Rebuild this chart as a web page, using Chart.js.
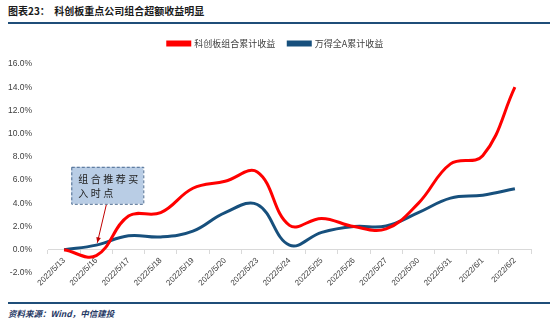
<!DOCTYPE html>
<html>
<head>
<meta charset="utf-8">
<script src="https://cdn.jsdelivr.net/npm/chart.js@4.4.1/dist/chart.umd.min.js"></script>
<style>
  body {
    margin: 0;
    width: 550px;
    height: 322px;
    background: #fff;
    position: relative;
    overflow: hidden;
    font-family: "Noto Sans CJK SC", sans-serif;
  }
  .title {
    position: absolute;
    left: 8px;
    top: 4px;
    font-size: 10px;
    line-height: 14px;
    font-weight: bold;
    color: #1a1a1a;
    white-space: pre;
  }
  .rule {
    position: absolute;
    left: 8px;
    right: 0;
    height: 2px;
    background: #1f4e79;
  }
  .chart-box {
    position: absolute;
    left: 0;
    top: 26px;
    width: 550px;
    height: 274px;
  }
  .source {
    position: absolute;
    left: 8px;
    top: 307px;
    font-size: 8.5px;
    line-height: 13px;
    font-weight: bold;
    font-style: italic;
    color: #1f3864;
  }
</style>
</head>
<body>
<div class="title">图表23：  科创板重点公司组合超额收益明显</div>
<div class="rule" style="top:22px"></div>
<div class="chart-box"><canvas id="chart"></canvas></div>
<div class="rule" style="top:302px"></div>
<div class="source">资料来源：Wind，中信建投</div>

<script>
// Trading days on the x axis
const dates = [
  '2022/5/13', '2022/5/16', '2022/5/17', '2022/5/18', '2022/5/19',
  '2022/5/20', '2022/5/23', '2022/5/24', '2022/5/25', '2022/5/26',
  '2022/5/27', '2022/5/30', '2022/5/31', '2022/6/1', '2022/6/2',
];

// Cumulative returns, in percent
const starPortfolio = [0, -0.5, 2.9, 3.2, 5.3, 5.9, 6.7, 2.1, 2.7, 2.0, 1.8, 4.0, 7.4, 8.1, 14.0];
const windAllA = [0, 0.4, 1.2, 1.1, 1.6, 3.2, 3.9, 0.4, 1.5, 2.0, 2.05, 3.2, 4.45, 4.7, 5.25];

const seriesNames = ['科创板组合累计收益', '万得全A累计收益'];
const calloutLines = ['组合推荐买', '入时点'];

const RED = '#ff0000';
const NAVY = '#17507d';
const FONT = '"Noto Sans CJK SC", "Liberation Sans", sans-serif';

// Leave a gap under the legend and nudge it right a little
const legendTweak = {
  id: 'legendTweak',
  beforeInit(chart) {
    const fit = chart.legend.fit;
    chart.legend.fit = function fitWithGap() {
      fit.bind(chart.legend)();
      this.height += 6;
    };
  },
  afterLayout(chart) {
    chart.legend.left += 20;
  },
};

// Callout box with an arrow pointing at the buy date
const callout = {
  id: 'callout',
  afterDatasetsDraw(chart) {
    const { ctx } = chart;
    const { x, y } = chart.scales;
    const tipX = x.getPixelForValue(1) + 1;
    const tipY = y.getPixelForValue(0.6);
    const left = tipX - 26;
    const top = tipY - 76;
    const w = 72;
    const h = 37;

    ctx.save();
    ctx.fillStyle = '#b9cde5';
    ctx.fillRect(left, top, w, h);
    ctx.setLineDash([3, 2]);
    ctx.strokeStyle = '#4a6a90';
    ctx.lineWidth = 1;
    ctx.strokeRect(left + 0.5, top + 0.5, w, h);
    ctx.setLineDash([]);

    ctx.fillStyle = '#222';
    ctx.font = '10px ' + FONT;
    ctx.textBaseline = 'middle';
    calloutLines.forEach((line, row) => {
      [...line].forEach((ch, i) => {
        ctx.fillText(ch, left + 7 + i * 12.5, top + 12 + row * 14);
      });
    });

    // arrow
    const sx = tipX + 9;
    const sy = top + h + 1;
    ctx.strokeStyle = '#c00000';
    ctx.fillStyle = '#c00000';
    ctx.lineWidth = 1;
    ctx.beginPath();
    ctx.moveTo(sx, sy);
    ctx.lineTo(tipX, tipY);
    ctx.stroke();
    const ang = Math.atan2(tipY - sy, tipX - sx);
    ctx.beginPath();
    ctx.moveTo(tipX, tipY);
    ctx.lineTo(tipX - 6 * Math.cos(ang - 0.4), tipY - 6 * Math.sin(ang - 0.4));
    ctx.lineTo(tipX - 6 * Math.cos(ang + 0.4), tipY - 6 * Math.sin(ang + 0.4));
    ctx.closePath();
    ctx.fill();
    ctx.restore();
  },
};

const canvas = document.getElementById('chart');
new Chart(canvas.getContext('2d'), {
  type: 'line',
  data: {
    labels: dates,
    datasets: [
      {
        label: seriesNames[0],
        data: starPortfolio,
        borderColor: RED,
        backgroundColor: RED,
        borderWidth: 3,
        tension: 0.4,
        pointRadius: 0,
      },
      {
        label: seriesNames[1],
        data: windAllA,
        borderColor: NAVY,
        backgroundColor: NAVY,
        borderWidth: 3,
        tension: 0.4,
        pointRadius: 0,
      },
    ],
  },
  options: {
    responsive: true,
    maintainAspectRatio: false,
    animation: false,
    layout: { padding: { top: 0, right: 19, bottom: 27, left: 0 } },
    plugins: {
      legend: {
        labels: {
          boxWidth: 22,
          boxHeight: 3,
          padding: 13,
          color: '#404040',
          font: { family: FONT, size: 9 },
        },
      },
      tooltip: { enabled: false },
    },
    scales: {
      x: {
        position: { y: 0 },
        offset: true,
        grid: {
          offset: true,
          drawOnChartArea: false,
          tickLength: 4,
          color: '#d9d9d9',
        },
        border: { color: '#d9d9d9' },
        ticks: {
          minRotation: 45,
          maxRotation: 45,
          autoSkip: false,
          padding: 2,
          color: '#404040',
          font: { family: '"Liberation Sans", sans-serif', size: 8 },
        },
      },
      y: {
        min: -2,
        max: 16,
        afterFit(scale) { scale.width = 48; },
        grid: { display: false },
        border: { display: false },
        ticks: {
          stepSize: 2,
          padding: 8,
          color: '#404040',
          font: { family: '"Liberation Sans", sans-serif', size: 8.5 },
          callback: (v) => v.toFixed(1) + '%',
        },
      },
    },
  },
  plugins: [legendTweak, callout],
});
</script>
</body>
</html>
